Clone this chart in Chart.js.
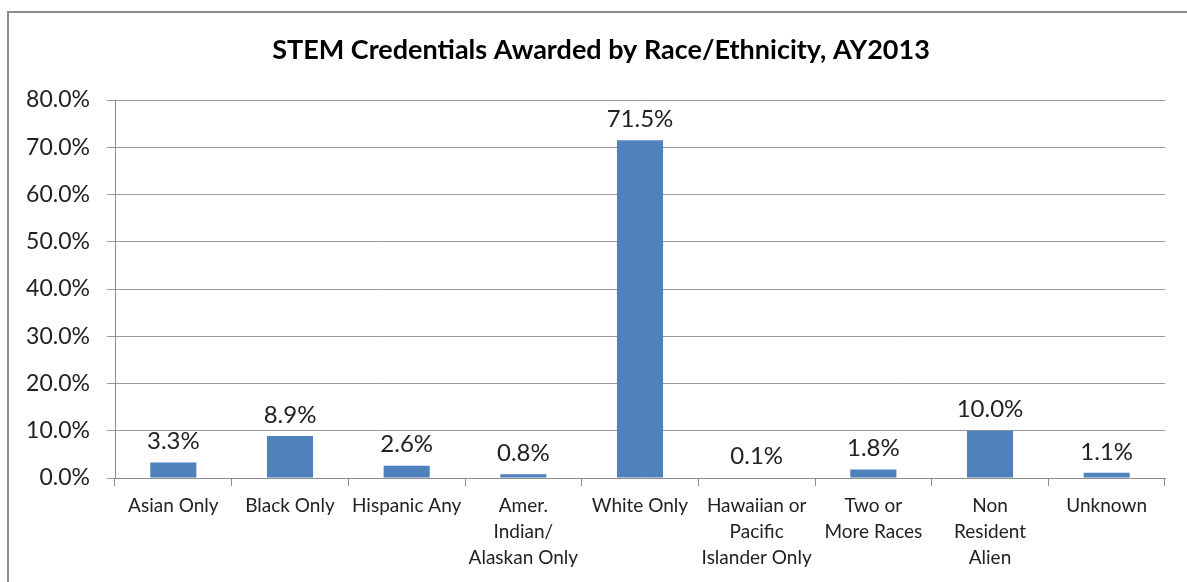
<!DOCTYPE html>
<html>
<head>
<meta charset="utf-8">
<script src="https://cdn.jsdelivr.net/npm/chart.js@4"></script>
<style>
  html, body { margin: 0; padding: 0; background: #fff; overflow: hidden; }
</style>
</head>
<body>
<canvas id="myChart" width="1187" height="582"></canvas>
<script>
const categories = [
    'Asian Only',
    'Black Only',
    'Hispanic Any',
    ['Amer.', 'Indian/', 'Alaskan Only'],
    'White Only',
    ['Hawaiian or', 'Pacific', 'Islander Only'],
    ['Two or', 'More Races'],
    ['Non', 'Resident', 'Alien'],
    'Unknown'
];
const shares = [3.3, 8.9, 2.6, 0.8, 71.5, 0.1, 1.8, 10.0, 1.1];
const yTicks = [0, 10, 20, 30, 40, 50, 60, 70, 80];
const chartTitle = 'STEM Credentials Awarded by Race/Ethnicity, AY2013';

const fontFamily = 'Lato, "Open Sans", sans-serif';

// outer frame + title, centred on the frame rather than the canvas
const framePlugin = {
    id: 'frame',
    beforeDraw(chart) {
        const c = chart.ctx;
        c.save();
        c.strokeStyle = '#8c8c8c';
        c.lineWidth = 2;
        c.strokeRect(8, 12, 1200, 600);
        c.font = 'bold 27px ' + fontFamily;
        c.fillStyle = '#000';
        c.textAlign = 'center';
        c.textBaseline = 'middle';
        c.fillText(chartTitle, 601, 50);
        c.restore();
    }
};

// value labels above each bar
const valueLabels = {
    id: 'valueLabels',
    afterDatasetsDraw(chart) {
        const c = chart.ctx;
        const meta = chart.getDatasetMeta(0);
        c.save();
        c.font = '24px ' + fontFamily;
        c.fillStyle = '#222';
        c.textAlign = 'center';
        c.textBaseline = 'bottom';
        meta.data.forEach((bar, i) => {
            c.fillText(shares[i].toFixed(1) + '%', bar.x, bar.y - 9);
        });
        c.restore();
    }
};

const ctx = document.getElementById('myChart');

new Chart(ctx, {
    type: 'bar',
    data: {
        labels: categories,
        datasets: [{
            data: shares,
            backgroundColor: '#4f81bd',
            borderWidth: 0,
            categoryPercentage: 1,
            barPercentage: 0.395
        }]
    },
    plugins: [framePlugin, valueLabels],
    options: {
        responsive: false,
        animation: false,
        layout: { padding: { top: 100, right: 22, bottom: 0, left: 0 } },
        plugins: {
            legend: { display: false },
            tooltip: { enabled: false },
            title: { display: false }
        },
        scales: {
            x: {
                grid: {
                    display: true,
                    offset: true,
                    drawOnChartArea: false,
                    tickLength: 8,
                    color: '#8c8c8c'
                },
                border: { color: '#8c8c8c' },
                ticks: {
                    color: '#222',
                    padding: 7,
                    maxRotation: 0,
                    autoSkip: false,
                    font: { family: fontFamily, size: 19, lineHeight: 1.37 }
                },
                afterFit(scale) { scale.height = 104; }
            },
            y: {
                min: 0,
                max: 80,
                afterBuildTicks(scale) {
                    scale.ticks = yTicks.map(v => ({ value: v }));
                },
                grid: { color: '#9a9a9a', tickLength: 8 },
                border: { color: '#8c8c8c' },
                ticks: {
                    color: '#222',
                    padding: 17,
                    font: { family: fontFamily, size: 23 },
                    callback: v => v.toFixed(1) + '%'
                },
                afterFit(scale) { scale.width = 115; }
            }
        }
    }
});
</script>
</body>
</html>
